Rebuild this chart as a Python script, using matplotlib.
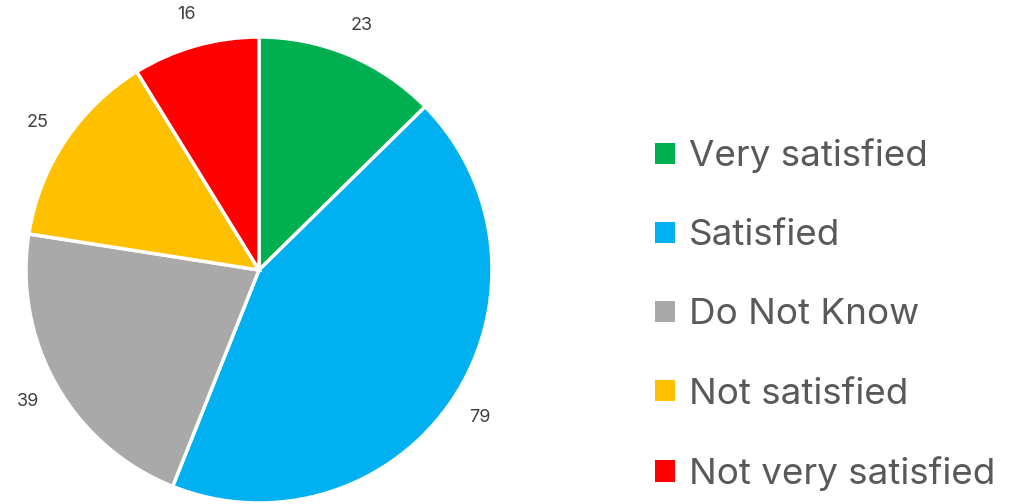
import matplotlib
matplotlib.use("Agg")
import matplotlib.pyplot as plt
from matplotlib.patches import Patch

plt.rcParams["font.family"] = ["Inter", "DejaVu Sans"]

# survey answers, drawn clockwise from 12 o'clock
categories = ["Very satisfied", "Satisfied", "Do Not Know", "Not satisfied", "Not very satisfied"]
counts = [23, 79, 39, 25, 16]
colors = ["#00B050", "#00B0F0", "#A9A9A9", "#FFC000", "#FF0000"]

fig = plt.figure(figsize=(10.10, 5.04), dpi=100)

# pie axes: centre at (259, 270) px, radius ~233 px
r = 233
ax = fig.add_axes([(259 - r) / 1010, (504 - 270 - r) / 504, 2 * r / 1010, 2 * r / 504])

wedges, texts = ax.pie(
    counts,
    colors=colors,
    startangle=90,
    counterclock=False,
    labels=[str(c) for c in counts],
    labeldistance=1.14,
    wedgeprops=dict(edgecolor="white", linewidth=2.5),
    textprops=dict(fontsize=13, color="#404040"),
)
for t in texts:
    t.set_horizontalalignment("center")
    t.set_verticalalignment("center")
ax.set_xlim(-1, 1)
ax.set_ylim(-1, 1)
ax.set_aspect("equal")

handles = [Patch(facecolor=c, edgecolor="none") for c in colors]
leg = fig.legend(
    handles, categories,
    loc="center left",
    bbox_to_anchor=(655 / 1010, (504 - 315) / 504),
    frameon=False,
    borderpad=0,
    borderaxespad=0,
    fontsize=26.5,
    handlelength=0.53,
    handleheight=0.53,
    handletextpad=0.4,
    labelspacing=1.25,
)
for t in leg.get_texts():
    t.set_color("#595959")

fig.savefig("out.png", dpi=100)
